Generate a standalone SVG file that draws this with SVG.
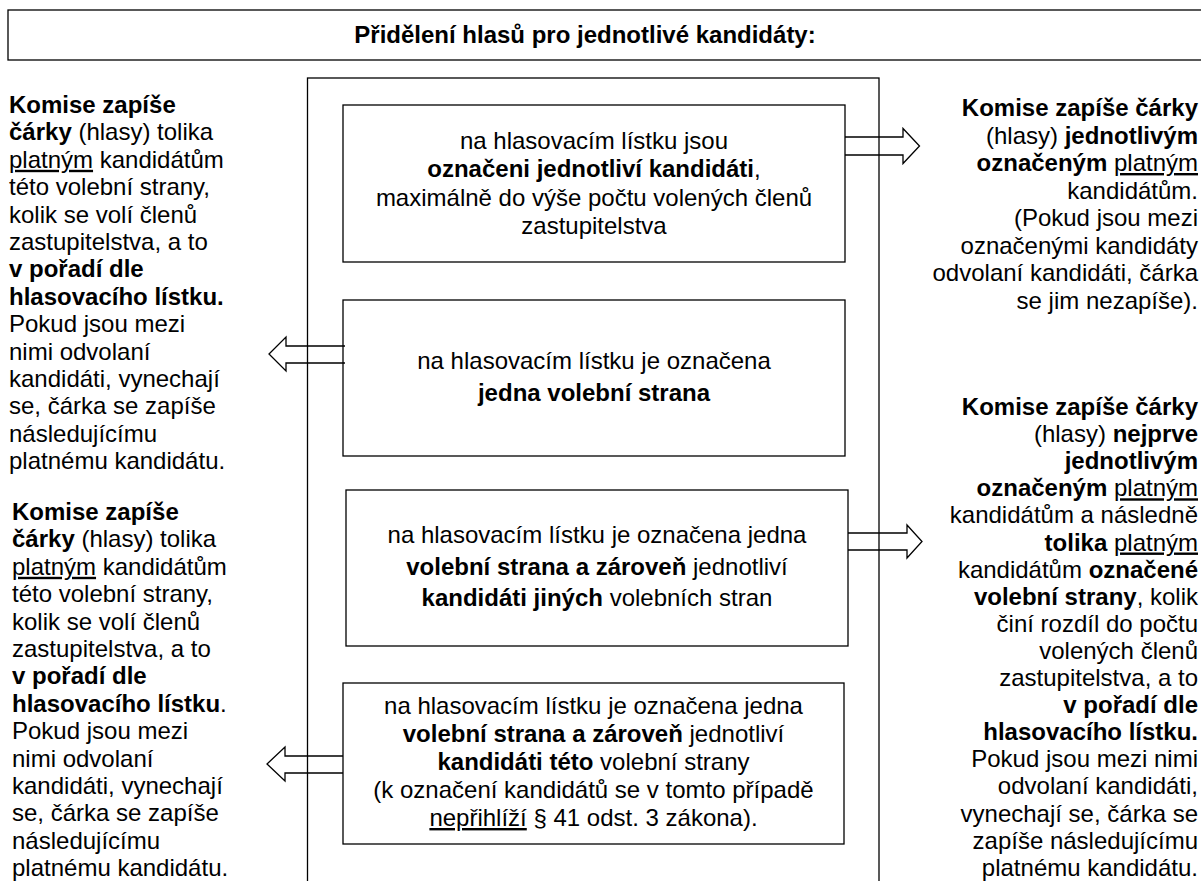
<svg xmlns="http://www.w3.org/2000/svg" width="1201" height="881" viewBox="0 0 1201 881">
<style>
text{font-family:"Liberation Sans",Arial,sans-serif;font-size:24px;fill:#000}
.b{font-weight:bold}
.u{text-decoration:underline}
.c{text-anchor:middle}
.r{text-anchor:end}
.box{fill:none;stroke:#000;stroke-width:1.3}
.arr{fill:none;stroke:#000;stroke-width:1.3;stroke-linejoin:miter}
</style>
<rect width="1201" height="881" fill="#fff"/>
<g id="title">
<rect class="box" x="8" y="10" width="1220" height="50"/>
<text class="b c" x="585" y="43">Přidělení hlasů pro jednotlivé kandidáty:</text>
</g>
<g id="frame">
<rect class="box" x="307.5" y="78" width="571.5" height="830"/>
</g>
<g id="box1">
<rect class="box" x="343" y="105" width="502" height="157"/>
<text class="c" x="594" y="149">na hlasovacím lístku jsou</text>
<text class="c" x="594" y="177.3"><tspan class="b">označeni jednotliví kandidáti</tspan>,</text>
<text class="c" x="594" y="205.6">maximálně do výše počtu volených členů</text>
<text class="c" x="594" y="234">zastupitelstva</text>
</g>
<g id="box2">
<rect class="box" x="343" y="300" width="502" height="156"/>
<text class="c" x="594" y="369">na hlasovacím lístku je označena</text>
<text class="c b" x="594" y="400.5">jedna volební strana</text>
</g>
<g id="box3">
<rect class="box" x="346" y="490" width="502" height="156"/>
<text class="c" x="597" y="543">na hlasovacím lístku je označena jedna</text>
<text class="c" x="597" y="574.5"><tspan class="b">volební strana a zároveň</tspan> jednotliví</text>
<text class="c" x="597" y="606"><tspan class="b">kandidáti jiných</tspan> volebních stran</text>
</g>
<g id="box4">
<rect class="box" x="343" y="683" width="501" height="161"/>
<text class="c" x="593.5" y="714">na hlasovacím lístku je označena jedna</text>
<text class="c" x="593.5" y="742"><tspan class="b">volební strana a zároveň</tspan> jednotliví</text>
<text class="c" x="593.5" y="770"><tspan class="b">kandidáti této</tspan> volební strany</text>
<text class="c" x="593.5" y="798">(k označení kandidátů se v tomto případě</text>
<text class="c" x="593.5" y="826"><tspan class="u">nepřihlíží</tspan> § 41 odst. 3 zákona).</text>
</g>
<g id="connectors">
<path class="arr" d="M845,137 H903 V128.5 L919.5,146 L903,163.5 V155 H845"/>
<path class="arr" d="M848,533 H907 V525 L922,541.5 L907,558 V550 H848"/>
<path class="arr" d="M345,346 H286 V337 L269,354 L286,371 V363 H345"/>
<path class="arr" d="M343,756 H285 V747 L267,764 L285,781 V773 H343"/>
</g>
<g id="left1">
<text x="9" y="113" class="b">Komise zapíše</text>
<text x="9" y="140.4"><tspan class="b">čárky</tspan> (hlasy) tolika</text>
<text x="9" y="167.8"><tspan class="u">platným</tspan> kandidátům</text>
<text x="9" y="195.2">této volební strany,</text>
<text x="9" y="222.6">kolik se volí členů</text>
<text x="9" y="250">zastupitelstva, a to</text>
<text x="9" y="277.4" class="b">v pořadí dle</text>
<text x="9" y="304.8" class="b">hlasovacího lístku.</text>
<text x="9" y="332.2">Pokud jsou mezi</text>
<text x="9" y="359.6">nimi odvolaní</text>
<text x="9" y="387">kandidáti, vynechají</text>
<text x="9" y="414.4">se, čárka se zapíše</text>
<text x="9" y="441.8">následujícímu</text>
<text x="9" y="469.2">platnému kandidátu.</text>
</g>
<g id="left2">
<text x="12" y="520" class="b">Komise zapíše</text>
<text x="12" y="547.4"><tspan class="b">čárky</tspan> (hlasy) tolika</text>
<text x="12" y="574.8"><tspan class="u">platným</tspan> kandidátům</text>
<text x="12" y="602.2">této volební strany,</text>
<text x="12" y="629.6">kolik se volí členů</text>
<text x="12" y="657">zastupitelstva, a to</text>
<text x="12" y="684.4" class="b">v pořadí dle</text>
<text x="12" y="711.8"><tspan class="b">hlasovacího lístku</tspan>.</text>
<text x="12" y="739.2">Pokud jsou mezi</text>
<text x="12" y="766.6">nimi odvolaní</text>
<text x="12" y="794">kandidáti, vynechají</text>
<text x="12" y="821.4">se, čárka se zapíše</text>
<text x="12" y="848.8">následujícímu</text>
<text x="12" y="876.2">platnému kandidátu.</text>
</g>
<g id="right1">
<text class="r b" x="1198" y="116">Komise zapíše čárky</text>
<text class="r" x="1198" y="143.5">(hlasy) <tspan class="b">jednotlivým</tspan></text>
<text class="r" x="1198" y="171"><tspan class="b">označeným</tspan> <tspan class="u">platným</tspan></text>
<text class="r" x="1198" y="198.5">kandidátům.</text>
<text class="r" x="1198" y="226">(Pokud jsou mezi</text>
<text class="r" x="1198" y="253.5">označenými kandidáty</text>
<text class="r" x="1198" y="281">odvolaní kandidáti, čárka</text>
<text class="r" x="1198" y="308.5">se jim nezapíše).</text>
</g>
<g id="right2">
<text class="r b" x="1198" y="415">Komise zapíše čárky</text>
<text class="r" x="1198" y="442.1">(hlasy) <tspan class="b">nejprve</tspan></text>
<text class="r b" x="1198" y="469.2">jednotlivým</text>
<text class="r" x="1198" y="496.3"><tspan class="b">označeným</tspan> <tspan class="u">platným</tspan></text>
<text class="r" x="1198" y="523.4">kandidátům a následně</text>
<text class="r" x="1198" y="550.5"><tspan class="b">tolika</tspan> <tspan class="u">platným</tspan></text>
<text class="r" x="1198" y="577.6">kandidátům <tspan class="b">označené</tspan></text>
<text class="r" x="1198" y="604.7"><tspan class="b">volební strany</tspan>, kolik</text>
<text class="r" x="1198" y="631.8">činí rozdíl do počtu</text>
<text class="r" x="1198" y="658.9">volených členů</text>
<text class="r" x="1198" y="686">zastupitelstva, a to</text>
<text class="r b" x="1198" y="713.1">v pořadí dle</text>
<text class="r b" x="1198" y="740.2">hlasovacího lístku.</text>
<text class="r" x="1198" y="767.3">Pokud jsou mezi nimi</text>
<text class="r" x="1198" y="794.4">odvolaní kandidáti,</text>
<text class="r" x="1198" y="821.5">vynechají se, čárka se</text>
<text class="r" x="1198" y="848.6">zapíše následujícímu</text>
<text class="r" x="1198" y="875.7">platnému kandidátu.</text>
</g>
</svg>
